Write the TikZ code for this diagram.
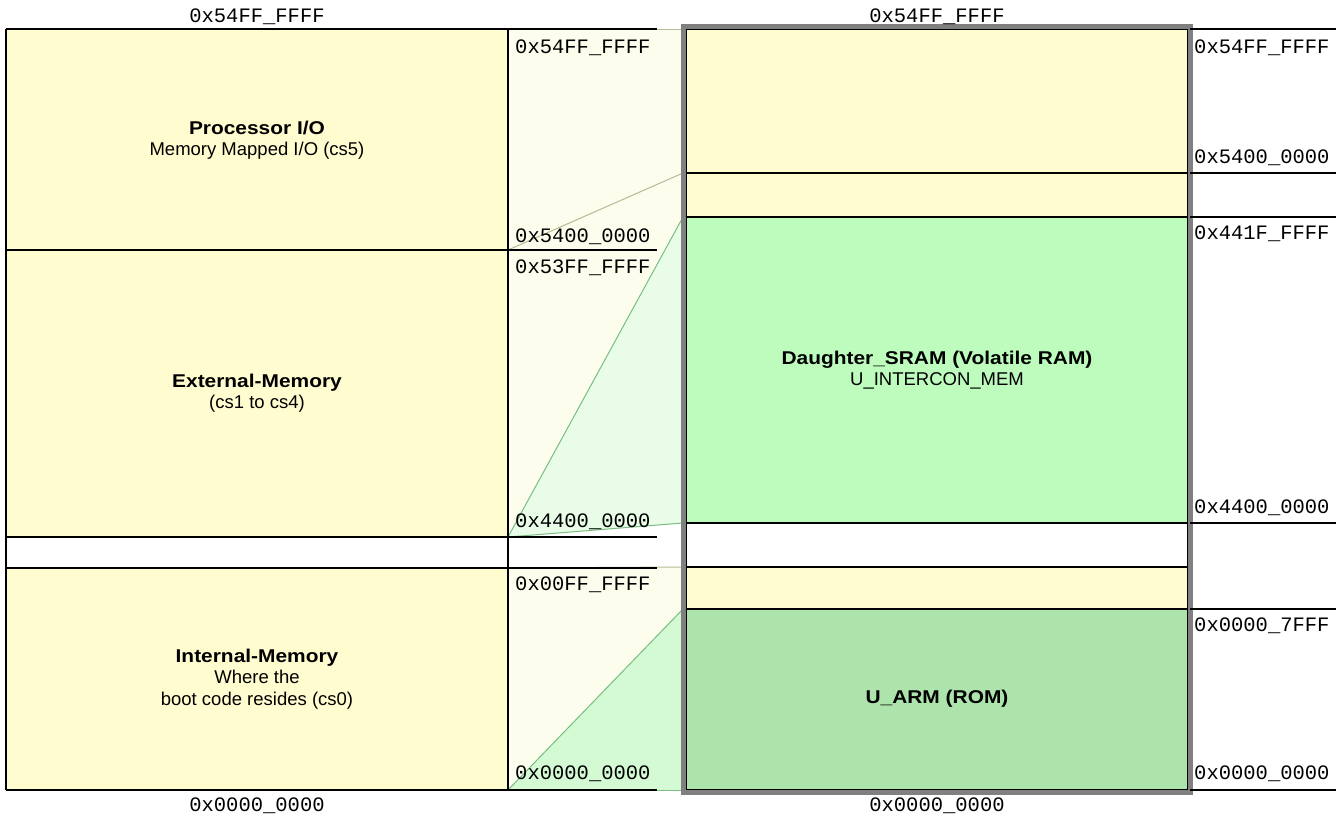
\documentclass[tikz,border=0pt]{standalone}
\usepackage{fontspec}
\setmainfont{Liberation Sans}
\newfontfamily\monofont{Liberation Mono}
\definecolor{boxyel}{RGB}{255,252,208}
\definecolor{funyel}{RGB}{253,253,238}
\definecolor{fungrnA}{RGB}{232,252,232}
\definecolor{fungrnB}{RGB}{212,250,212}
\definecolor{sramgrn}{RGB}{190,252,190}
\definecolor{romgrn}{RGB}{172,228,172}
\definecolor{khaki}{RGB}{185,185,150}
\definecolor{edgegrn}{RGB}{120,190,130}
\definecolor{brd}{RGB}{128,128,128}
\tikzset{
  blk/.style={draw=black,line width=1.3pt},
  addr/.style={font=\monofont\fontsize{20.5}{22}\selectfont,inner sep=0pt},
  ttl/.style={align=center,inner sep=0pt,font=\fontsize{18.5}{21.5}\selectfont},
  kedge/.style={draw=khaki,line width=1pt},
  gedge/.style={draw=edgegrn,line width=1pt},
}
\newcommand{\bt}[1]{\scalebox{1.13}[1]{\textbf{#1}}}
\begin{document}
\begin{tikzpicture}[x=1pt,y=-1pt]
\useasboundingbox (0,0) rectangle (1342,819);
\fill[white] (0,0) rectangle (1342,819);
% middle funnels
\fill[funyel] (508,29) -- (683,29) -- (683,173) -- (508,250) -- cycle;
\fill[funyel] (508,250) -- (683,173) -- (683,523) -- (508,537) -- cycle;
\fill[fungrnA] (508,537) -- (683,217) -- (683,523) -- cycle;
\fill[funyel] (508,568) -- (683,567) -- (683,790) -- (508,790) -- cycle;
\fill[fungrnB] (508,790) -- (683,609) -- (683,790) -- cycle;
\coordinate (m29) at (508,29);   \coordinate (r29) at (683,29);
\coordinate (m250) at (508,250); \coordinate (r173) at (683,173);
\coordinate (m537) at (508,537); \coordinate (r217) at (683,217);
\coordinate (r523) at (683,523);
\coordinate (m568) at (508,568); \coordinate (r567) at (683,567);
\coordinate (m790) at (508,790); \coordinate (r609) at (683,609);
\coordinate (r790) at (683,790);
\draw[kedge] (m29) -- (r29);
\draw[kedge] (m250) -- (r173);
\draw[kedge] (m568) -- (r567);
\draw[gedge] (m537) -- (r217);
\draw[gedge] (m537) -- (r523);
\draw[gedge] (m790) -- (r609);
\draw[gedge] (m790) -- (r790);
% left boxes
\fill[boxyel] (6,29) rectangle (508,250);
\fill[boxyel] (6,250) rectangle (508,537);
\fill[boxyel] (6,568) rectangle (508,790);
\draw[blk] (6,29) -- (657,29);
\draw[blk] (6,250) -- (657,250);
\draw[blk] (6,537) -- (657,537);
\draw[blk] (6,568) -- (657,568);
\draw[blk] (6,790) -- (657,790);
\draw[blk] (6,29) -- (6,790);
\draw[blk] (508,29) -- (508,790);
% right box
\fill[boxyel] (686,29) rectangle (1188,217);
\fill[sramgrn] (686,217) rectangle (1188,523);
\fill[boxyel] (686,567) rectangle (1188,609);
\fill[romgrn] (686,609) rectangle (1188,790);
\foreach \yy in {173,217,523,567,609} {\draw[blk] (686,\yy) -- (1188,\yy);}
\draw[blk] (686,29) rectangle (1188,790);
\draw[brd,line width=5pt] (683,26.5) rectangle (1190.5,792.5);
\foreach \yy in {29,173,217,523,609,790} {\draw[blk] (1190,\yy) -- (1336,\yy);}
% titles
\node[ttl] (tP) at (257,140) {\bt{Processor I/O}\\Memory Mapped I/O (cs5)};
\node[ttl] (tE) at (257,393) {\bt{External-Memory}\\(cs1 to cs4)};
\node[ttl] (tI) at (257,679) {\bt{Internal-Memory}\\Where the\\boot code resides (cs0)};
\node[ttl] (tS) at (937,370) {\bt{Daughter\_SRAM (Volatile RAM)}\\U\_INTERCON\_MEM};
\node[ttl] (tR) at (937,699) {\bt{U\_ARM (ROM)}};
% address labels
\node[addr,anchor=base] (aTL) at (257,23) {0x54FF\_FFFF};
\node[addr,anchor=base] (aTR) at (937,23) {0x54FF\_FFFF};
\node[addr,anchor=base] (aBL) at (257,811) {0x0000\_0000};
\node[addr,anchor=base] (aBR) at (937,811) {0x0000\_0000};
\node[addr,anchor=base west] (m1) at (515,53) {0x54FF\_FFFF};
\node[addr,anchor=base west] (m2) at (515,242) {0x5400\_0000};
\node[addr,anchor=base west] (m3) at (515,273) {0x53FF\_FFFF};
\node[addr,anchor=base west] (m4) at (515,527) {0x4400\_0000};
\node[addr,anchor=base west] (m5) at (515,590) {0x00FF\_FFFF};
\node[addr,anchor=base west] (m6) at (515,779) {0x0000\_0000};
\node[addr,anchor=base west] (r1) at (1194,53) {0x54FF\_FFFF};
\node[addr,anchor=base west] (r2) at (1194,163) {0x5400\_0000};
\node[addr,anchor=base west] (r3) at (1194,239) {0x441F\_FFFF};
\node[addr,anchor=base west] (r4) at (1194,513) {0x4400\_0000};
\node[addr,anchor=base west] (r5) at (1194,631) {0x0000\_7FFF};
\node[addr,anchor=base west] (r6) at (1194,779) {0x0000\_0000};
\end{tikzpicture}
\end{document}
